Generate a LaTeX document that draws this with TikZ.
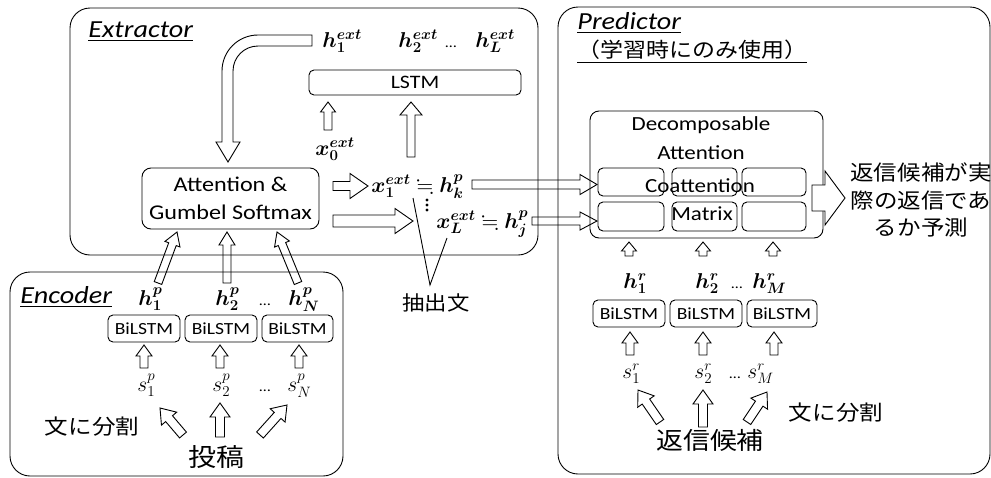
\documentclass[tikz,border=0pt]{standalone}
\usepackage{fix-cm}
\usepackage{amsmath,amssymb,bm}
\usepackage{fontspec}
\setmainfont{Carlito}[FakeStretch=1.15]
\newfontfamily\jp{Noto Sans CJK JP}[FakeStretch=1.12]
\usetikzlibrary{calc}
\newcommand{\blockarrow}[5]{\coordinate (hb) at ($(#2)!#5!(#1)$);\draw[fill=white] ($(#1)!#3!90:(#2)$) -- ($(hb)!#3!90:(#2)$) -- ($(hb)!#4!90:(#2)$) -- (#2) -- ($(hb)!#4!-90:(#2)$) -- ($(hb)!#3!-90:(#2)$) -- ($(#1)!#3!-90:(#2)$) -- cycle;}
\tikzset{
title/.style={anchor=base west,inner sep=0pt,font=\fontsize{24.5}{28}\selectfont},
mth/.style={anchor=base west,inner sep=0pt,font=\fontsize{21.5}{25}\selectfont},
lbl/.style={inner sep=0pt,font=\fontsize{20}{24}\selectfont},
jp/.style={inner sep=0pt,font=\jp\fontsize{21}{27.5}\selectfont},
box/.style={draw,rounded corners=5pt,inner sep=0pt,font=\fontsize{19}{22}\selectfont},
bil/.style={box,minimum width=72pt,minimum height=27pt,font=\fontsize{17}{20}\selectfont},
cell/.style={draw,rounded corners=5pt,inner sep=0pt,minimum height=28pt}
}
\begin{document}
\begin{tikzpicture}[x=1pt,y=-1pt,line width=0.9pt]
\useasboundingbox (0,0) rectangle (991,477);
\draw[fill=white] (312,35) -- (258,35) arc[start angle=270,end angle=180,radius=36] -- (222,142) -- (216,142) -- (228,162) -- (240,142) -- (233,142) -- (233,71) arc[start angle=180,end angle=270,radius=25] -- (312,46) -- cycle;
\coordinate (x0t) at (328,130);\coordinate (x0h) at (328,102);\blockarrow{x0t}{x0h}{4pt}{7.5pt}{10pt}
\coordinate (x1t) at (411,157);\coordinate (x1h) at (411,102);\blockarrow{x1t}{x1h}{4pt}{11pt}{13pt}
\coordinate (r1t) at (333,186);\coordinate (r1h) at (368,186);\blockarrow{r1t}{r1h}{4.5pt}{12.5pt}{18pt}
\coordinate (r2t) at (333,221);\coordinate (r2h) at (413,221);\blockarrow{r2t}{r2h}{6pt}{12.5pt}{18pt}
\coordinate (k1t) at (472,184.5);\coordinate (k1h) at (597,184.5);\blockarrow{k1t}{k1h}{4.5pt}{10pt}{17pt}
\coordinate (k2t) at (532,221);\coordinate (k2h) at (597,221);\blockarrow{k2t}{k2h}{4pt}{9pt}{17pt}
\coordinate (a1t) at (158,283);\coordinate (a1h) at (177,232);\blockarrow{a1t}{a1h}{4pt}{8pt}{13pt}
\coordinate (a2t) at (227,283);\coordinate (a2h) at (227,232);\blockarrow{a2t}{a2h}{4pt}{8pt}{13pt}
\coordinate (a3t) at (298,283);\coordinate (a3h) at (277,232);\blockarrow{a3t}{a3h}{4pt}{8pt}{13pt}
\coordinate (e1t) at (144,368);\coordinate (e1h) at (144,345);\blockarrow{e1t}{e1h}{4pt}{8pt}{11pt}
\coordinate (e2t) at (220,368);\coordinate (e2h) at (220,345);\blockarrow{e2t}{e2h}{4pt}{8pt}{11pt}
\coordinate (e3t) at (299,368);\coordinate (e3h) at (299,345);\blockarrow{e3t}{e3h}{4pt}{8pt}{11pt}
\coordinate (p1t) at (183,435);\coordinate (p1h) at (160,408);\blockarrow{p1t}{p1h}{4.5pt}{10pt}{14pt}
\coordinate (p2t) at (220,437);\coordinate (p2h) at (220,403);\blockarrow{p2t}{p2h}{4.5pt}{10pt}{14pt}
\coordinate (p3t) at (260,435);\coordinate (p3h) at (287,405);\blockarrow{p3t}{p3h}{4.5pt}{10pt}{14pt}
\coordinate (d1t) at (629,256);\coordinate (d1h) at (629,242);\blockarrow{d1t}{d1h}{4pt}{7.5pt}{9pt}
\coordinate (d2t) at (703,256);\coordinate (d2h) at (703,242);\blockarrow{d2t}{d2h}{4pt}{7.5pt}{9pt}
\coordinate (d3t) at (773,256);\coordinate (d3h) at (773,242);\blockarrow{d3t}{d3h}{4pt}{7.5pt}{9pt}
\coordinate (b1t) at (630,355);\coordinate (b1h) at (630,332);\blockarrow{b1t}{b1h}{4pt}{8pt}{11pt}
\coordinate (b2t) at (703,355);\coordinate (b2h) at (703,332);\blockarrow{b2t}{b2h}{4pt}{8pt}{11pt}
\coordinate (b3t) at (774,355);\coordinate (b3h) at (774,332);\blockarrow{b3t}{b3h}{4pt}{8pt}{11pt}
\coordinate (q1t) at (660,422);\coordinate (q1h) at (638,390);\blockarrow{q1t}{q1h}{4.5pt}{10pt}{14pt}
\coordinate (q2t) at (703,427);\coordinate (q2h) at (703,390);\blockarrow{q2t}{q2h}{4.5pt}{10pt}{14pt}
\coordinate (q3t) at (747,422);\coordinate (q3h) at (767,392);\blockarrow{q3t}{q3h}{4.5pt}{10pt}{14pt}
\draw[rounded corners=20pt] (70,8) rectangle (538,255);
\draw[rounded corners=20pt] (10,272) rectangle (343,476);
\draw[rounded corners=20pt] (558,7) rectangle (990,474);
\node[title] (extt) at (88,37) {\underline{\textit{Extractor}}};
\node[mth] (h1e) at (322,47) {$\bm{h_1^{ext}}$};\node[mth] (h2e) at (398,47) {$\bm{h_2^{ext}}$};\node[lbl,anchor=base] (hde) at (451,47) {\fontsize{14}{16}\selectfont …};\node[mth] (hle) at (475,47) {$\bm{h_L^{ext}}$};
\node[box,minimum width=212pt,minimum height=25pt] (lstm) at (415,82.5) {LSTM};
\node[mth] (x0e) at (315,155) {$\bm{x_0^{ext}}$};
\node[box,rounded corners=9pt,minimum width=177pt,minimum height=61pt,align=center,font=\fontsize{21}{28}\selectfont] (att) at (230.5,198.5) {Attention \&\\Gumbel Softmax};
\node[mth] (x1e) at (371,192) {$\bm{x_1^{ext}}\fallingdotseq\bm{h_k^p}$};
\filldraw [black] (427,200) circle (1pt);\filldraw [black] (427,205) circle (1pt);\filldraw [black] (427,210) circle (1pt);
\node[mth] (xle) at (436,228) {$\bm{x_L^{ext}}\fallingdotseq\bm{h_j^p}$};
\coordinate (c1) at (413,198);\coordinate (c2) at (447,238);\coordinate (c3) at (430,285);\draw (c1)--(c3)--(c2);
\node[jp,font=\jp\fontsize{20}{24}\selectfont] (chu) at (436,303) {抽出文};
\node[title] (enct) at (20,303) {\underline{\textit{Encoder}}};
\node[mth] (h1p) at (138,305) {$\bm{h_1^p}$};\node[mth] (h2p) at (215,305) {$\bm{h_2^p}$};\node[lbl,anchor=base] (hdp) at (265,305) {\fontsize{14}{16}\selectfont …};\node[mth] (hnp) at (288,305) {$\bm{h_N^p}$};
\node[bil] (eb1) at (144,328.5) {BiLSTM};\node[bil] (eb2) at (221,328.5) {BiLSTM};\node[bil,minimum width=71pt] (eb3) at (297.5,328.5) {BiLSTM};
\node[mth] (s1p) at (137,391) {$s_1^p$};\node[mth] (s2p) at (212,391) {$s_2^p$};\node[lbl,anchor=base] (sdp) at (265,391) {\fontsize{14}{16}\selectfont …};\node[mth] (snp) at (287,391) {$s_N^p$};
\node[jp] (bun1) at (92,427) {文に分割};
\node[jp,font=\jp\fontsize{25}{30}\selectfont] (post) at (216,457) {投稿};
\node[title] (predt) at (577,29) {\underline{\textit{Predictor}}};
\node[jp,anchor=west,font=\jp\fontsize{20.5}{26}\selectfont] (only) at (577,52) {\underline{（学習時にのみ使用）}};
\draw[rounded corners=9pt] (590,111) rectangle (823,238);
\node[lbl] (dec1) at (701,125) {Decomposable};\node[lbl] (dec2) at (701,153) {Attention};
\node[cell,minimum width=66pt] (m11) at (631,182) {};\node[cell,minimum width=65pt] (m12) at (704.5,182) {};\node[cell,minimum width=64pt] (m13) at (774,182) {};
\node[cell,minimum width=66pt,minimum height=29pt] (m21) at (631,216.5) {};\node[cell,minimum width=65pt,minimum height=29pt] (m22) at (704.5,216.5) {};\node[cell,minimum width=64pt,minimum height=29pt] (m23) at (774,216.5) {};
\node[lbl] (coat) at (700,186) {Coattention};\node[lbl] (matr) at (702,214) {Matrix};
\coordinate (ot) at (812,198);\coordinate (oh) at (845,198);\blockarrow{ot}{oh}{13pt}{27pt}{20pt}
\node[jp,align=center] (res) at (921,200) {返信候補が実\\際の返信であ\\るか予測};
\node[mth] (h1r) at (623,288) {$\bm{h_1^r}$};\node[mth] (h2r) at (695,288) {$\bm{h_2^r}$};\node[lbl,anchor=base] (hdr) at (737,288) {\fontsize{14}{16}\selectfont …};\node[mth] (hmr) at (752,288) {$\bm{h_M^r}$};
\node[bil] (rb1) at (629,313.5) {BiLSTM};\node[bil] (rb2) at (706,313.5) {BiLSTM};\node[bil,minimum width=70pt] (rb3) at (782,313.5) {BiLSTM};
\node[mth] (s1r) at (622,378) {$s_1^r$};\node[mth] (s2r) at (694,378) {$s_2^r$};\node[lbl,anchor=base] (sdr) at (735,378) {\fontsize{14}{16}\selectfont …};\node[mth] (smr) at (747,378) {$s_M^r$};
\node[jp] (bun2) at (836,413) {文に分割};
\node[jp,font=\jp\fontsize{24}{28}\selectfont] (cand) at (710,440) {返信候補};
\end{tikzpicture}
\end{document}
